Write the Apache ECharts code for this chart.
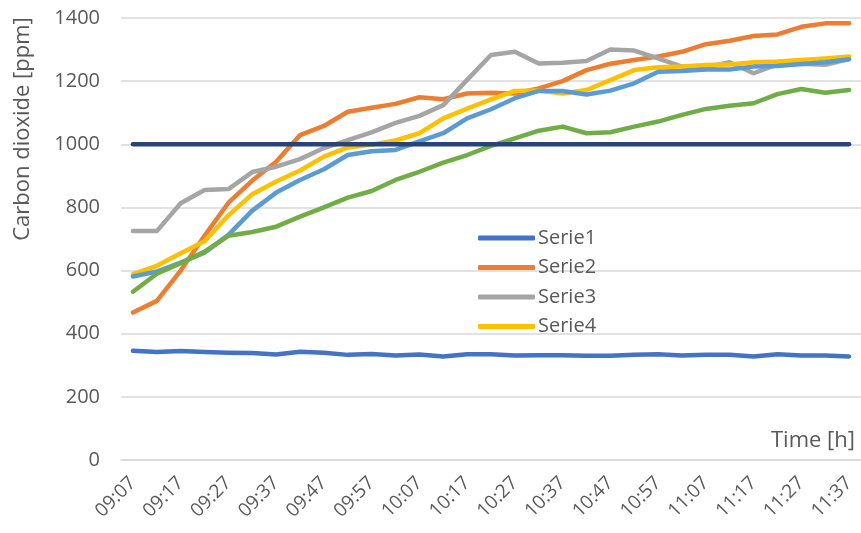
<!DOCTYPE html>
<html>
<head>
<meta charset="utf-8">
<script src="https://cdn.jsdelivr.net/npm/echarts@6/dist/echarts.min.js"></script>
<style>
  html, body { margin: 0; padding: 0; background: #ffffff; }
  #chart { width: 861px; height: 533px; }
</style>
</head>
<body>
<div id="chart"></div>
<script>
const times = ['09:07','09:12','09:17','09:22','09:27','09:32','09:37','09:42','09:47','09:52',
  '09:57','10:02','10:07','10:12','10:17','10:22','10:27','10:32','10:37','10:42',
  '10:47','10:52','10:57','11:02','11:07','11:12','11:17','11:22','11:27','11:32','11:37'];

const serie1 = [346, 342, 345, 342, 340, 339, 334, 343, 340, 333, 336, 331, 334, 328, 335, 335, 331, 332, 332, 330, 330, 333, 335, 331, 333, 333, 328, 335, 331, 331, 328];
const serie2 = [467, 504, 600, 710, 815, 885, 945, 1029, 1058, 1103, 1116, 1128, 1149, 1143, 1161, 1163, 1161, 1177, 1200, 1235, 1255, 1267, 1278, 1293, 1317, 1328, 1343, 1348, 1372, 1383, 1383];
const serie3 = [725, 725, 813, 855, 858, 912, 929, 953, 988, 1013, 1038, 1068, 1090, 1124, 1204, 1283, 1293, 1256, 1258, 1264, 1300, 1297, 1272, 1246, 1243, 1260, 1225, 1253, 1255, 1252, 1270];
const serie4 = [589, 615, 655, 693, 775, 842, 882, 917, 961, 990, 999, 1012, 1035, 1082, 1113, 1142, 1169, 1170, 1161, 1172, 1203, 1235, 1244, 1246, 1251, 1253, 1260, 1262, 1267, 1272, 1278];
const serie5 = [581, 597, 625, 657, 713, 790, 847, 887, 921, 966, 978, 982, 1009, 1035, 1082, 1111, 1146, 1169, 1169, 1158, 1170, 1193, 1230, 1232, 1237, 1237, 1246, 1248, 1254, 1260, 1269];
const serie6 = [533, 590, 623, 660, 710, 722, 739, 771, 800, 831, 852, 887, 913, 942, 966, 995, 1019, 1043, 1056, 1035, 1038, 1056, 1072, 1093, 1112, 1122, 1130, 1159, 1175, 1163, 1172];
const serie7 = [1000, 1000, 1000, 1000, 1000, 1000, 1000, 1000, 1000, 1000, 1000, 1000, 1000, 1000, 1000, 1000, 1000, 1000, 1000, 1000, 1000, 1000, 1000, 1000, 1000, 1000, 1000, 1000, 1000, 1000, 1000];

const seriesNames = ['Serie1','Serie2','Serie3','Serie4','Serie5','Serie6','Serie7'];
const seriesData = [serie1, serie2, serie3, serie4, serie5, serie6, serie7];
const colors = ['#4472C4','#ED7D31','#A5A5A5','#FFC000','#5B9BD5','#70AD47','#264478'];
const legendNames = ['Serie1','Serie2','Serie3','Serie4'];
const yTicks = { min: 0, max: 1400, interval: 200 };

const FONT = '"Open Sans", "DejaVu Sans", sans-serif';
const TXT = '#595959';

const chart = echarts.init(document.getElementById('chart'), null, { renderer: 'canvas' });
chart.setOption({
  animation: false,
  backgroundColor: '#ffffff',
  color: colors,
  grid: { left: 121, right: 0, top: 18, bottom: 73, containLabel: false },
  legend: {
    data: legendNames,
    orient: 'vertical',
    left: 473,
    top: 223,
    icon: 'roundRect',
    itemWidth: 57,
    itemHeight: 5,
    itemGap: 9.5,
    textStyle: { color: TXT, fontFamily: FONT, fontSize: 20, padding: [0, 0, 0, -2] }
  },
  xAxis: {
    type: 'category',
    data: times,
    boundaryGap: true,
    name: 'Time [h]',
    nameLocation: 'end',
    nameGap: -6,
    nameTextStyle: { color: TXT, fontFamily: FONT, fontSize: 22, align: 'right', verticalAlign: 'bottom', padding: [0, 0, 8, 0] },
    axisLine: { show: true, lineStyle: { color: '#d9d9d9', width: 1.5 } },
    axisTick: { show: false },
    axisLabel: { interval: 1, rotate: 45, margin: 20, color: TXT, fontFamily: FONT, fontSize: 19 },
    splitLine: { show: false }
  },
  yAxis: {
    type: 'value',
    min: yTicks.min,
    max: yTicks.max,
    interval: yTicks.interval,
    axisLine: { show: false },
    axisTick: { show: false },
    axisLabel: { margin: 21, color: TXT, fontFamily: FONT, fontSize: 20, formatter: v => String(v) },
    splitLine: { show: true, lineStyle: { color: '#d9d9d9', width: 1.5 } }
  },
  graphic: [{
    type: 'text',
    x: 23,
    y: 129,
    rotation: Math.PI / 2,
    style: {
      text: 'Carbon dioxide [ppm]',
      fill: TXT,
      font: '22px ' + FONT,
      align: 'center',
      verticalAlign: 'middle'
    }
  }],
  series: seriesNames.map((n, i) => ({
    name: n,
    type: 'line',
    data: seriesData[i],
    symbol: 'none',
    smooth: false,
    lineStyle: { width: 4.5, color: colors[i], cap: 'round', join: 'round' },
    itemStyle: { color: colors[i] },
    emphasis: { disabled: true }
  }))
});
</script>
</body>
</html>
